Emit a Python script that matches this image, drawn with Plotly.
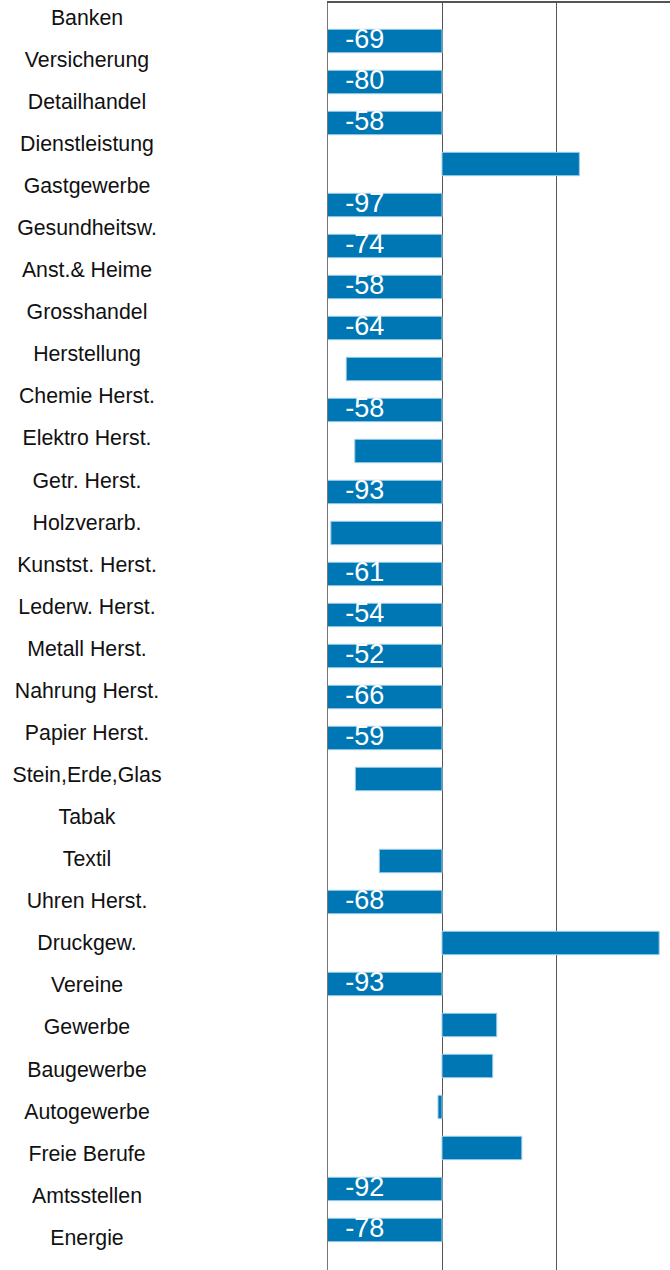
import plotly.graph_objects as go

categories = ["Banken", "Versicherung", "Detailhandel", "Dienstleistung", "Gastgewerbe",
              "Gesundheitsw.", "Anst.& Heime", "Grosshandel", "Herstellung", "Chemie Herst.",
              "Elektro Herst.", "Getr. Herst.", "Holzverarb.", "Kunstst. Herst.", "Lederw. Herst.",
              "Metall Herst.", "Nahrung Herst.", "Papier Herst.", "Stein,Erde,Glas", "Tabak",
              "Textil", "Uhren Herst.", "Druckgew.", "Vereine", "Gewerbe",
              "Baugewerbe", "Autogewerbe", "Freie Berufe", "Amtsstellen", "Energie"]
values = [-69, -80, -58, 24.1, -97,
          -74, -58, -64, -16.8, -58,
          -15.3, -93, -19.5, -61, -54,
          -52, -66, -59, -15.2, None,
          -11.0, -68, 38.1, -93, 9.6,
          8.9, -0.7, 14.0, -92, -78]

X_MIN, X_MAX = -20, 40
BAR_COLOR = "#0077b5"
GRID = "#555555"

# labels for bars that run past the left edge of the axis
clip_y = [c for c, v in zip(categories, values) if v is not None and v < X_MIN]
clip_x = [X_MIN for c, v in zip(categories, values) if v is not None and v < X_MIN]
clip_t = [str(int(v)) for v in values if v is not None and v < X_MIN]

fig = go.Figure()
fig.add_trace(go.Bar(
    x=values, y=categories, orientation="h",
    marker=dict(color=BAR_COLOR, line=dict(color="#9fcde8", width=1)),
    width=0.57, hoverinfo="skip", showlegend=False,
    xaxis="x", yaxis="y",
))
fig.add_trace(go.Scatter(
    x=clip_x, y=clip_y, mode="markers+text", text=clip_t,
    textposition="middle right",
    marker=dict(size=26, opacity=0),
    textfont=dict(family="Liberation Sans, Arial", size=27, color="white"),
    hoverinfo="skip", showlegend=False, cliponaxis=False,
    xaxis="x", yaxis="y",
))
fig.add_trace(go.Scatter(
    x=[0] * len(categories), y=categories, mode="text", text=categories,
    textposition="middle center",
    textfont=dict(family="Liberation Sans, Arial", size=21.3, color="#111111"),
    hoverinfo="skip", showlegend=False, cliponaxis=False,
    xaxis="x2", yaxis="y2",
))

fig.update_layout(
    width=670, height=1270,
    margin=dict(l=0, r=0, t=3, b=0),
    paper_bgcolor="white", plot_bgcolor="white",
    xaxis=dict(domain=[328 / 670, 1], range=[X_MIN, X_MAX], dtick=20, side="top",
               showgrid=True, gridcolor=GRID, gridwidth=1,
               zeroline=True, zerolinecolor=GRID, zerolinewidth=1,
               showline=True, linecolor=GRID, linewidth=2,
               showticklabels=False, ticks="", fixedrange=True),
    yaxis=dict(anchor="x", type="category", categoryarray=categories,
               range=[29.976, -0.927], showticklabels=False, showgrid=False,
               showline=True, linecolor="#777777", linewidth=1, ticks="", fixedrange=True),
    xaxis2=dict(domain=[0, 174 / 670], range=[-1, 1], visible=False, fixedrange=True),
    yaxis2=dict(anchor="x2", type="category", categoryarray=categories,
                range=[29.725, -0.392], visible=False, fixedrange=True),
)

fig.write_html("out.html", config={"displayModeBar": False},
               post_script="document.body.style.margin='0';")
